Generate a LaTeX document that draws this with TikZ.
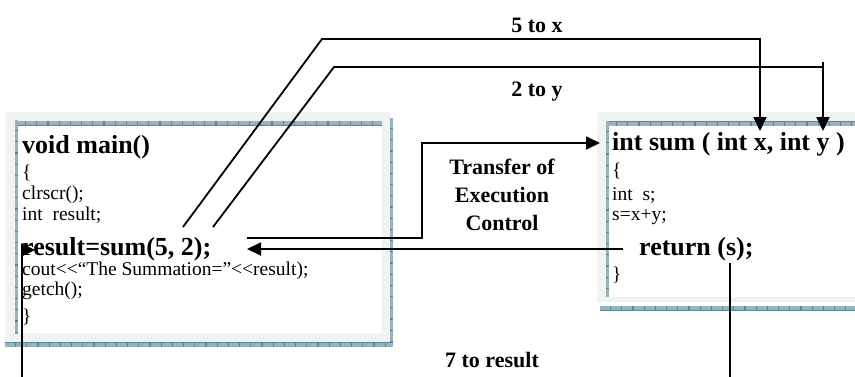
\documentclass[tikz,border=0pt]{standalone}
\usepackage{fontspec}
\setmainfont{Liberation Serif}
\usetikzlibrary{arrows.meta}
\definecolor{boxgray}{RGB}{241,243,243}
\definecolor{stripdark}{RGB}{94,133,146}
\definecolor{striplight}{RGB}{150,180,190}
\tikzset{
  hstrip/.style={line width=5pt,draw=stripdark,postaction={draw=striplight,line width=4pt,dash pattern=on 10pt off 1.2pt}},
  vstrip/.style={line width=3pt,draw=stripdark,postaction={draw=striplight,line width=2.4pt,dash pattern=on 10pt off 1.2pt}},
  codebig/.style={anchor=base west,inner sep=0pt,font=\fontsize{26}{30}\selectfont\bfseries},
  codesmall/.style={anchor=base west,inner sep=0pt,font=\fontsize{19.5}{22}\selectfont},
  tag/.style={anchor=base,inner sep=0pt,font=\fontsize{22}{28}\selectfont\bfseries,align=center},
  flow/.style={line width=1.8pt,-{Triangle[length=14pt,width=13pt]}}
}
\begin{document}
\begin{tikzpicture}[x=1pt,y=-1pt]
\useasboundingbox (0,0) rectangle (855,376);
\clip (0,0) rectangle (855,376);
\fill[white] (0,0) rectangle (855,376);
\fill[boxgray] (5,112) rectangle (390,342);
\fill[white] (18,126) rectangle (382,333);
\draw[hstrip] (15,123) -- (382,123);
\draw[vstrip] (16.5,120) -- (16.5,333);
\draw[vstrip] (391.5,118) -- (391.5,347);
\draw[hstrip] (5,344.5) -- (393,344.5);
\fill[boxgray] (597,112) rectangle (870,302);
\fill[white] (609,126) rectangle (870,297);
\draw[hstrip] (606,123.5) -- (870,123.5);
\draw[vstrip] (607.5,121) -- (607.5,297);
\draw[hstrip] (600,308) -- (870,308);
\node[codebig] (mainhead) at (22,153) {void main()};
\node[codesmall] (mainopen) at (22,178) {\{};
\node[codesmall] (mainclr) at (22,199) {clrscr();};
\node[codesmall] (maindecl) at (22,220) {int\ \ result;};
\node[codebig] (maincall) at (22,255) {result=sum(5, 2);};
\node[codesmall] (mainout) at (22,275) {cout<\kern0pt<“The Summation=”<\kern0pt<result);};
\node[codesmall] (maingetch) at (22,295) {getch();};
\node[codesmall] (mainclose) at (22,322) {\}};
\node[codebig] (sumhead) at (612,150) {int sum ( int x, int y )};
\node[codesmall] (sumopen) at (612,176) {\{};
\node[codesmall] (sumdecl) at (612,200) {int\ \ s;};
\node[codesmall] (sumcalc) at (612,220) {s=x+y;};
\node[codebig] (sumret) at (639,255) {return (s);};
\node[codesmall] (sumclose) at (612,280) {\}};
\node[tag] (tagx) at (537,32) {5 to x};
\node[tag] (tagy) at (537,96) {2 to y};
\node[tag,anchor=north] (tagctrl) at (502,159) {Transfer of\\Execution\\Control};
\node[tag] (tagres) at (492,367) {7 to result};
\coordinate (xfrom) at (183,227);
\coordinate (xbend) at (322,39);
\coordinate (xturn) at (760,39);
\coordinate (xto) at (760,131);
\coordinate (yfrom) at (213,227);
\coordinate (ybend) at (334,67);
\coordinate (ytop) at (823,62);
\coordinate (yturn) at (823,67);
\coordinate (yto) at (823,131);
\coordinate (ctrlfrom) at (247,238);
\coordinate (ctrlup) at (422,238);
\coordinate (ctrlbend) at (422,143);
\coordinate (ctrlto) at (600,143);
\coordinate (retfrom) at (623,249);
\coordinate (retto) at (247,249);
\coordinate (resfrom) at (730,263);
\coordinate (resdown) at (730,395);
\coordinate (resleft) at (22,395);
\coordinate (resup) at (22,250);
\coordinate (resto) at (35,250);
\draw[flow] (xfrom) -- (xbend) -- (xturn) -- (xto);
\draw[line width=1.8pt] (yfrom) -- (ybend) -- (yturn);
\draw[flow] (ytop) -- (yto);
\draw[flow] (ctrlfrom) -- (ctrlup) -- (ctrlbend) -- (ctrlto);
\draw[flow] (retfrom) -- (retto);
\draw[flow] (resfrom) -- (resdown) -- (resleft) -- (resup) -- (resto);
\end{tikzpicture}
\end{document}
